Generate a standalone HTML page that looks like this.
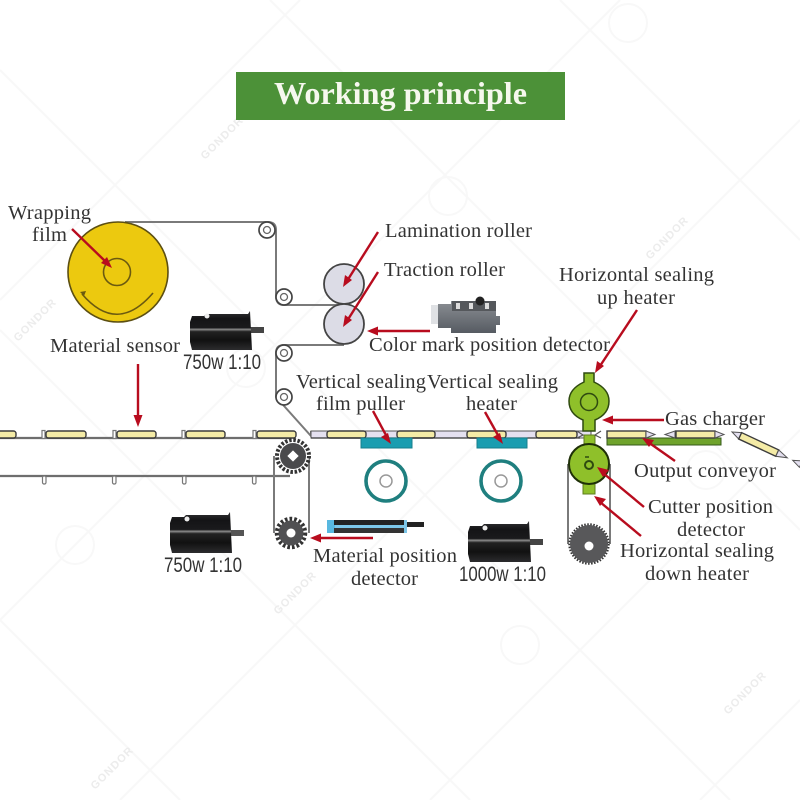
<!DOCTYPE html>
<html>
<head>
<meta charset="utf-8">
<title>Working principle</title>
<style>
html,body{margin:0;padding:0;background:#fff;width:800px;height:800px;overflow:hidden}
svg{display:block}
.t{font-family:"Liberation Serif",serif;font-size:20.500px;fill:#333}
.m{font-family:"Liberation Sans",sans-serif;font-size:21px;fill:#333}
.w{font-family:"Liberation Sans",sans-serif;font-size:11px;font-weight:bold;fill:#ececec;letter-spacing:1px}
.y{fill:#f4eba6;stroke:#3c3c3c;stroke-width:1.4}
.l{fill:#e4e0f0;stroke:#555;stroke-width:1}
.b{fill:none;stroke:#7a7a7a;stroke-width:2}
.a{stroke:#b80c1e;stroke-width:2.4;fill:none}
.h{fill:#b80c1e}
</style>
</head>
<body>
<svg width="800" height="800" viewBox="0 0 800 800" xmlns="http://www.w3.org/2000/svg">
<defs>
<linearGradient id="mg" x1="0" y1="0" x2="0" y2="1">
<stop offset="0" stop-color="#333335"/><stop offset=".2" stop-color="#141416"/><stop offset=".43" stop-color="#1a1a1c"/><stop offset=".47" stop-color="#8a8a8a"/><stop offset=".53" stop-color="#222"/><stop offset=".75" stop-color="#111"/><stop offset="1" stop-color="#2c2c2e"/>
</linearGradient>
<linearGradient id="sg" x1="0" y1="0" x2="0" y2="1">
<stop offset="0" stop-color="#8b8f94"/><stop offset="1" stop-color="#565b62"/>
</linearGradient>
</defs>
<rect width="800" height="800" fill="#fff"/>

<!-- watermark -->
<g stroke="#f8f8f8" stroke-width="2" fill="none">
<path d="M0 70L330 400L730 800M270 0L800 530M560 0L800 240M0 330L470 800M0 620L180 800"/>
<path d="M0 300L300 0M0 620L620 0M120 800L800 120M430 800L800 430M700 800L800 700"/>
<circle cx="628" cy="23" r="19"/><circle cx="448" cy="196" r="19"/><circle cx="75" cy="545" r="19"/><circle cx="520" cy="645" r="19"/><circle cx="246" cy="368" r="19"/><circle cx="706" cy="470" r="19"/>
</g>
<g class="w">
<text transform="translate(205,160) rotate(-45)" x="0" y="0">GONDOR</text>
<text transform="translate(650,260) rotate(-45)" x="0" y="0">GONDOR</text>
<text transform="translate(18,342) rotate(-45)" x="0" y="0">GONDOR</text>
<text transform="translate(278,615) rotate(-45)" x="0" y="0">GONDOR</text>
<text transform="translate(728,715) rotate(-45)" x="0" y="0">GONDOR</text>
<text transform="translate(95,790) rotate(-45)" x="0" y="0">GONDOR</text>
</g>

<!-- header -->
<rect x="236" y="72" width="329" height="48" fill="#4c9138"/>
<text x="274" y="104" textLength="253" lengthAdjust="spacingAndGlyphs" style="font-family:'Liberation Serif',serif;font-size:32px;font-weight:bold;fill:#f6f8ee">Working principle</text>

<!-- film path -->
<path class="b" d="M125 222H268Q276 222 276 230V296Q276 305 284 305H344"/>
<path class="b" d="M344 345H284Q276 345 276 353V397L311 436V431"/>

<!-- film reel -->
<circle cx="118" cy="272" r="50" fill="#ecc90f" stroke="#5c4f12" stroke-width="1.6"/>
<circle cx="117" cy="272" r="13.500" fill="#ecc90f" stroke="#6b5a10" stroke-width="1.6"/>
<path d="M153 293Q117 335 82 294" fill="none" stroke="#6b5a10" stroke-width="1.6"/>
<path d="M80 292l6 -1l-2 5z" fill="#6b5a10"/>

<!-- small rollers -->
<g fill="#fff" stroke="#444" stroke-width="1.700">
<circle cx="267" cy="230" r="8"/><circle cx="284" cy="297" r="8"/><circle cx="284" cy="353" r="8"/><circle cx="284" cy="397" r="8"/>
</g>
<g fill="#fff" stroke="#666" stroke-width="1.300">
<circle cx="267" cy="230" r="3.500"/><circle cx="284" cy="297" r="3.500"/><circle cx="284" cy="353" r="3.500"/><circle cx="284" cy="397" r="3.500"/>
</g>

<!-- big rollers -->
<circle cx="344" cy="284" r="20" fill="#dcdce6" stroke="#444" stroke-width="1.800"/>
<circle cx="344" cy="324" r="20" fill="#dcdce6" stroke="#444" stroke-width="1.800"/>

<!-- left conveyor -->
<path d="M0 438H290M0 476H290" stroke="#6e6e6e" stroke-width="2.200" fill="none"/>
<g fill="#fff" stroke="#777" stroke-width="1.200">
<rect x="42.500" y="476" width="3.500" height="8" rx="1.500"/><rect x="112.500" y="476" width="3.500" height="8" rx="1.500"/><rect x="182.500" y="476" width="3.500" height="8" rx="1.500"/><rect x="252.500" y="476" width="3.500" height="8" rx="1.500"/>
<rect x="42" y="430.500" width="3" height="8"/><rect x="113" y="430.500" width="3" height="8"/><rect x="182" y="430.500" width="3" height="8"/><rect x="253" y="430.500" width="3" height="8"/>
</g>
<rect class="y" x="-6" y="431" width="22" height="7" rx="2.500"/>
<rect class="y" x="46" y="431" width="40" height="7" rx="2.500"/>
<rect class="y" x="117" y="431" width="39" height="7" rx="2.500"/>
<rect class="y" x="186" y="431" width="39" height="7" rx="2.500"/>
<rect class="y" x="257" y="431" width="39" height="7" rx="2.500"/>

<!-- middle strip -->
<rect class="l" x="311" y="431" width="280" height="7"/>
<rect class="y" x="327" y="431" width="39" height="7" rx="2.500"/>
<rect class="y" x="397" y="431" width="38" height="7" rx="2.500"/>
<rect class="y" x="467" y="431" width="39" height="7" rx="2.500"/>
<rect class="y" x="536" y="431" width="41" height="7" rx="2.500"/>
<path d="M311 438H580M361 439H412M477 439H527" stroke="#333" stroke-width="1.200" fill="none"/>

<!-- teal pads and rings -->
<rect x="361" y="438" width="51" height="10" fill="#1a9db0" stroke="#177f8c"/>
<rect x="477" y="438" width="50" height="10" fill="#1a9db0" stroke="#177f8c"/>
<circle cx="386" cy="481" r="20" fill="#fff" stroke="#1f7f7f" stroke-width="3.600"/>
<circle cx="501" cy="481" r="20" fill="#fff" stroke="#1f7f7f" stroke-width="3.600"/>
<circle cx="386" cy="481" r="6" fill="#fff" stroke="#999" stroke-width="1.500"/>
<circle cx="501" cy="481" r="6" fill="#fff" stroke="#999" stroke-width="1.500"/>

<!-- gears -->
<path class="b" d="M274 456V533M309 456V533M568 464V544M610 464V544"/>
<g>
<circle cx="293" cy="456" r="16" fill="#fff" stroke="#333" stroke-width="4" stroke-dasharray="2.500 1.700"/>
<circle cx="293" cy="456" r="13" fill="#4a4a4c"/>
<rect x="289" y="452" width="8" height="8" fill="#fff" transform="rotate(45 293 456)"/>
<circle cx="291" cy="533" r="14" fill="none" stroke="#333" stroke-width="4.500" stroke-dasharray="2.600 2"/>
<circle cx="291" cy="533" r="12.500" fill="#505052"/>
<circle cx="291" cy="533" r="4.500" fill="#fff"/>
<circle cx="589" cy="544" r="19.500" fill="none" stroke="#333" stroke-width="2.500" stroke-dasharray="1.500 1.500"/>
<circle cx="589" cy="544" r="19" fill="#58585a"/>
<circle cx="589" cy="546" r="4.500" fill="#fff"/>
</g>

<!-- green sealers -->
<path d="M584 373H594V382Q609 389 609 401Q609 414 595 420V431H583V420Q569 414 569 401Q569 389 584 382Z" fill="#8fc02a" stroke="#2f4a10" stroke-width="1.500"/>
<circle cx="589" cy="402" r="8.500" fill="#8fc02a" stroke="#2f4a10" stroke-width="1.500"/>
<rect x="584" y="435" width="11" height="10" fill="#8fc02a" stroke="#5d7d1c"/>
<rect x="583" y="480" width="12" height="14" fill="#8fc02a" stroke="#5d7d1c"/>
<circle cx="589" cy="464" r="20" fill="#8fc02a" stroke="#1f3008" stroke-width="2"/>
<circle cx="589" cy="465" r="4" fill="none" stroke="#2f4a10" stroke-width="2"/>
<path d="M585 457h4" stroke="#2f4a10" stroke-width="1.500"/>

<!-- output conveyor and products -->
<rect x="607" y="438" width="114" height="7" fill="#6fa32c" stroke="#35591a"/>
<path d="M577 431L583 435L577 438M601 431L595 435L601 438" fill="none" stroke="#555" stroke-width="1.200"/>
<rect class="y" x="607" y="431" width="39" height="7"/>
<path class="l" d="M646 431L655 434.500L646 438Z"/>
<path class="l" d="M675 431L665 434.500L675 438Z"/>
<rect class="y" x="676" y="431" width="39" height="7"/>
<path class="l" d="M715 431L724 434.500L715 438Z"/>
<g transform="translate(732,432) rotate(25)">
<path class="l" d="M9 -3.500L0 0L9 3.500Z"/>
<rect class="y" x="9" y="-3.500" width="41" height="7"/>
<path class="l" d="M50 -3.500L61 0L50 3.500Z"/>
<path class="l" d="M76 -3.500L67 0L76 3.500Z"/>
</g>

<!-- motors -->
<g>
<rect x="250" y="327" width="14" height="6" fill="#444"/>
<path d="M192 316H204L206 314H248L250 311L252 350H192L190 342V322Z" fill="url(#mg)"/>
<circle cx="207" cy="316" r="2.500" fill="#eee"/>
</g>
<g>
<rect x="230" y="530" width="14" height="6" fill="#555"/>
<path d="M172 517H184L186 515H228L230 512L232 553H172L170 545V523Z" fill="url(#mg)"/>
<circle cx="187" cy="519" r="2.500" fill="#eee"/>
</g>
<g>
<rect x="529" y="539" width="14" height="6" fill="#444"/>
<path d="M470 526H482L484 524H527L529 521L531 562H470L468 554V532Z" fill="url(#mg)"/>
<circle cx="485" cy="528" r="2.500" fill="#eee"/>
</g>
<text class="m" x="183" y="369" textLength="78" lengthAdjust="spacingAndGlyphs">750w 1:10</text>
<text class="m" x="164" y="572" textLength="78" lengthAdjust="spacingAndGlyphs">750w 1:10</text>
<text class="m" x="459" y="581" textLength="87" lengthAdjust="spacingAndGlyphs">1000w 1:10</text>

<!-- colour sensor -->
<rect x="431" y="305" width="9" height="19" fill="#dfe1e4"/>
<path d="M438 304H451V301H496V316H500V325H496V333H451V328H438Z" fill="url(#sg)"/>
<rect x="452" y="301" width="44" height="10" fill="#55585c"/>
<rect x="456" y="303" width="4" height="6" fill="#ddd"/><rect x="469" y="303" width="4" height="6" fill="#ddd"/><rect x="485" y="303" width="4" height="6" fill="#ddd"/>
<circle cx="480" cy="301" r="4.500" fill="#222"/>

<!-- material position sensor -->
<rect x="327" y="520" width="8" height="13" fill="#58b8e0"/>
<rect x="335" y="520" width="72" height="13" fill="#7cc6e8"/>
<rect x="334" y="520" width="70" height="5" fill="#222"/>
<rect x="334" y="528" width="70" height="5" fill="#333"/>
<rect x="407" y="522" width="17" height="5" fill="#222"/>

<!-- red arrows -->
<path class="a" d="M72 229L106 262"/><path class="h" d="M112 268L101 263L107 257Z"/>
<path class="a" d="M138 364V417"/><path class="h" d="M138 427L133.500 415H142.500Z"/>
<path class="a" d="M378 232L347 281"/><path class="h" d="M343 287L345 275L352 280Z"/>
<path class="a" d="M378 272L347 321"/><path class="h" d="M343 327L345 315L352 320Z"/>
<path class="a" d="M430 331H376"/><path class="h" d="M367 331L378 326.500V335.500Z"/>
<path class="a" d="M373 411L387 437"/><path class="h" d="M391 444L381 437L388 433Z"/>
<path class="a" d="M485 412L499 437"/><path class="h" d="M503 444L493 437L500 433Z"/>
<path class="a" d="M637 310L600 366"/><path class="h" d="M595 373L597 361L604 366Z"/>
<path class="a" d="M664 420H610"/><path class="h" d="M602 420L613 415.500V424.500Z"/>
<path class="a" d="M675 461L648 442"/><path class="h" d="M642 438L654 440L649 447Z"/>
<path class="a" d="M644 507L603 473"/><path class="h" d="M597 467L609 470L603 477Z"/>
<path class="a" d="M641 536L600 502"/><path class="h" d="M594 496L606 499L600 506Z"/>
<path class="a" d="M373 538H319"/><path class="h" d="M310 538L321 533.500V542.500Z"/>

<!-- labels -->
<text class="t" x="8" y="219" textLength="83">Wrapping</text>
<text class="t" x="32" y="241" textLength="35">film</text>
<text class="t" x="50" y="352" textLength="130">Material sensor</text>
<text class="t" x="385" y="237" textLength="147">Lamination roller</text>
<text class="t" x="384" y="276" textLength="121">Traction roller</text>
<text class="t" x="369" y="351" textLength="241">Color mark position detector</text>
<text class="t" x="296" y="388" textLength="130">Vertical sealing</text>
<text class="t" x="316" y="410" textLength="89">film puller</text>
<text class="t" x="427" y="388" textLength="131">Vertical sealing</text>
<text class="t" x="466" y="410" textLength="51">heater</text>
<text class="t" x="559" y="281" textLength="155">Horizontal sealing</text>
<text class="t" x="597" y="304" textLength="78">up heater</text>
<text class="t" x="665" y="425" textLength="100">Gas charger</text>
<text class="t" x="634" y="477" textLength="142">Output conveyor</text>
<text class="t" x="648" y="513" textLength="125">Cutter position</text>
<text class="t" x="677" y="536" textLength="68">detector</text>
<text class="t" x="620" y="557" textLength="154">Horizontal sealing</text>
<text class="t" x="645" y="580" textLength="104">down heater</text>
<text class="t" x="313" y="562" textLength="144">Material position</text>
<text class="t" x="351" y="585" textLength="67">detector</text>
</svg>
</body>
</html>
